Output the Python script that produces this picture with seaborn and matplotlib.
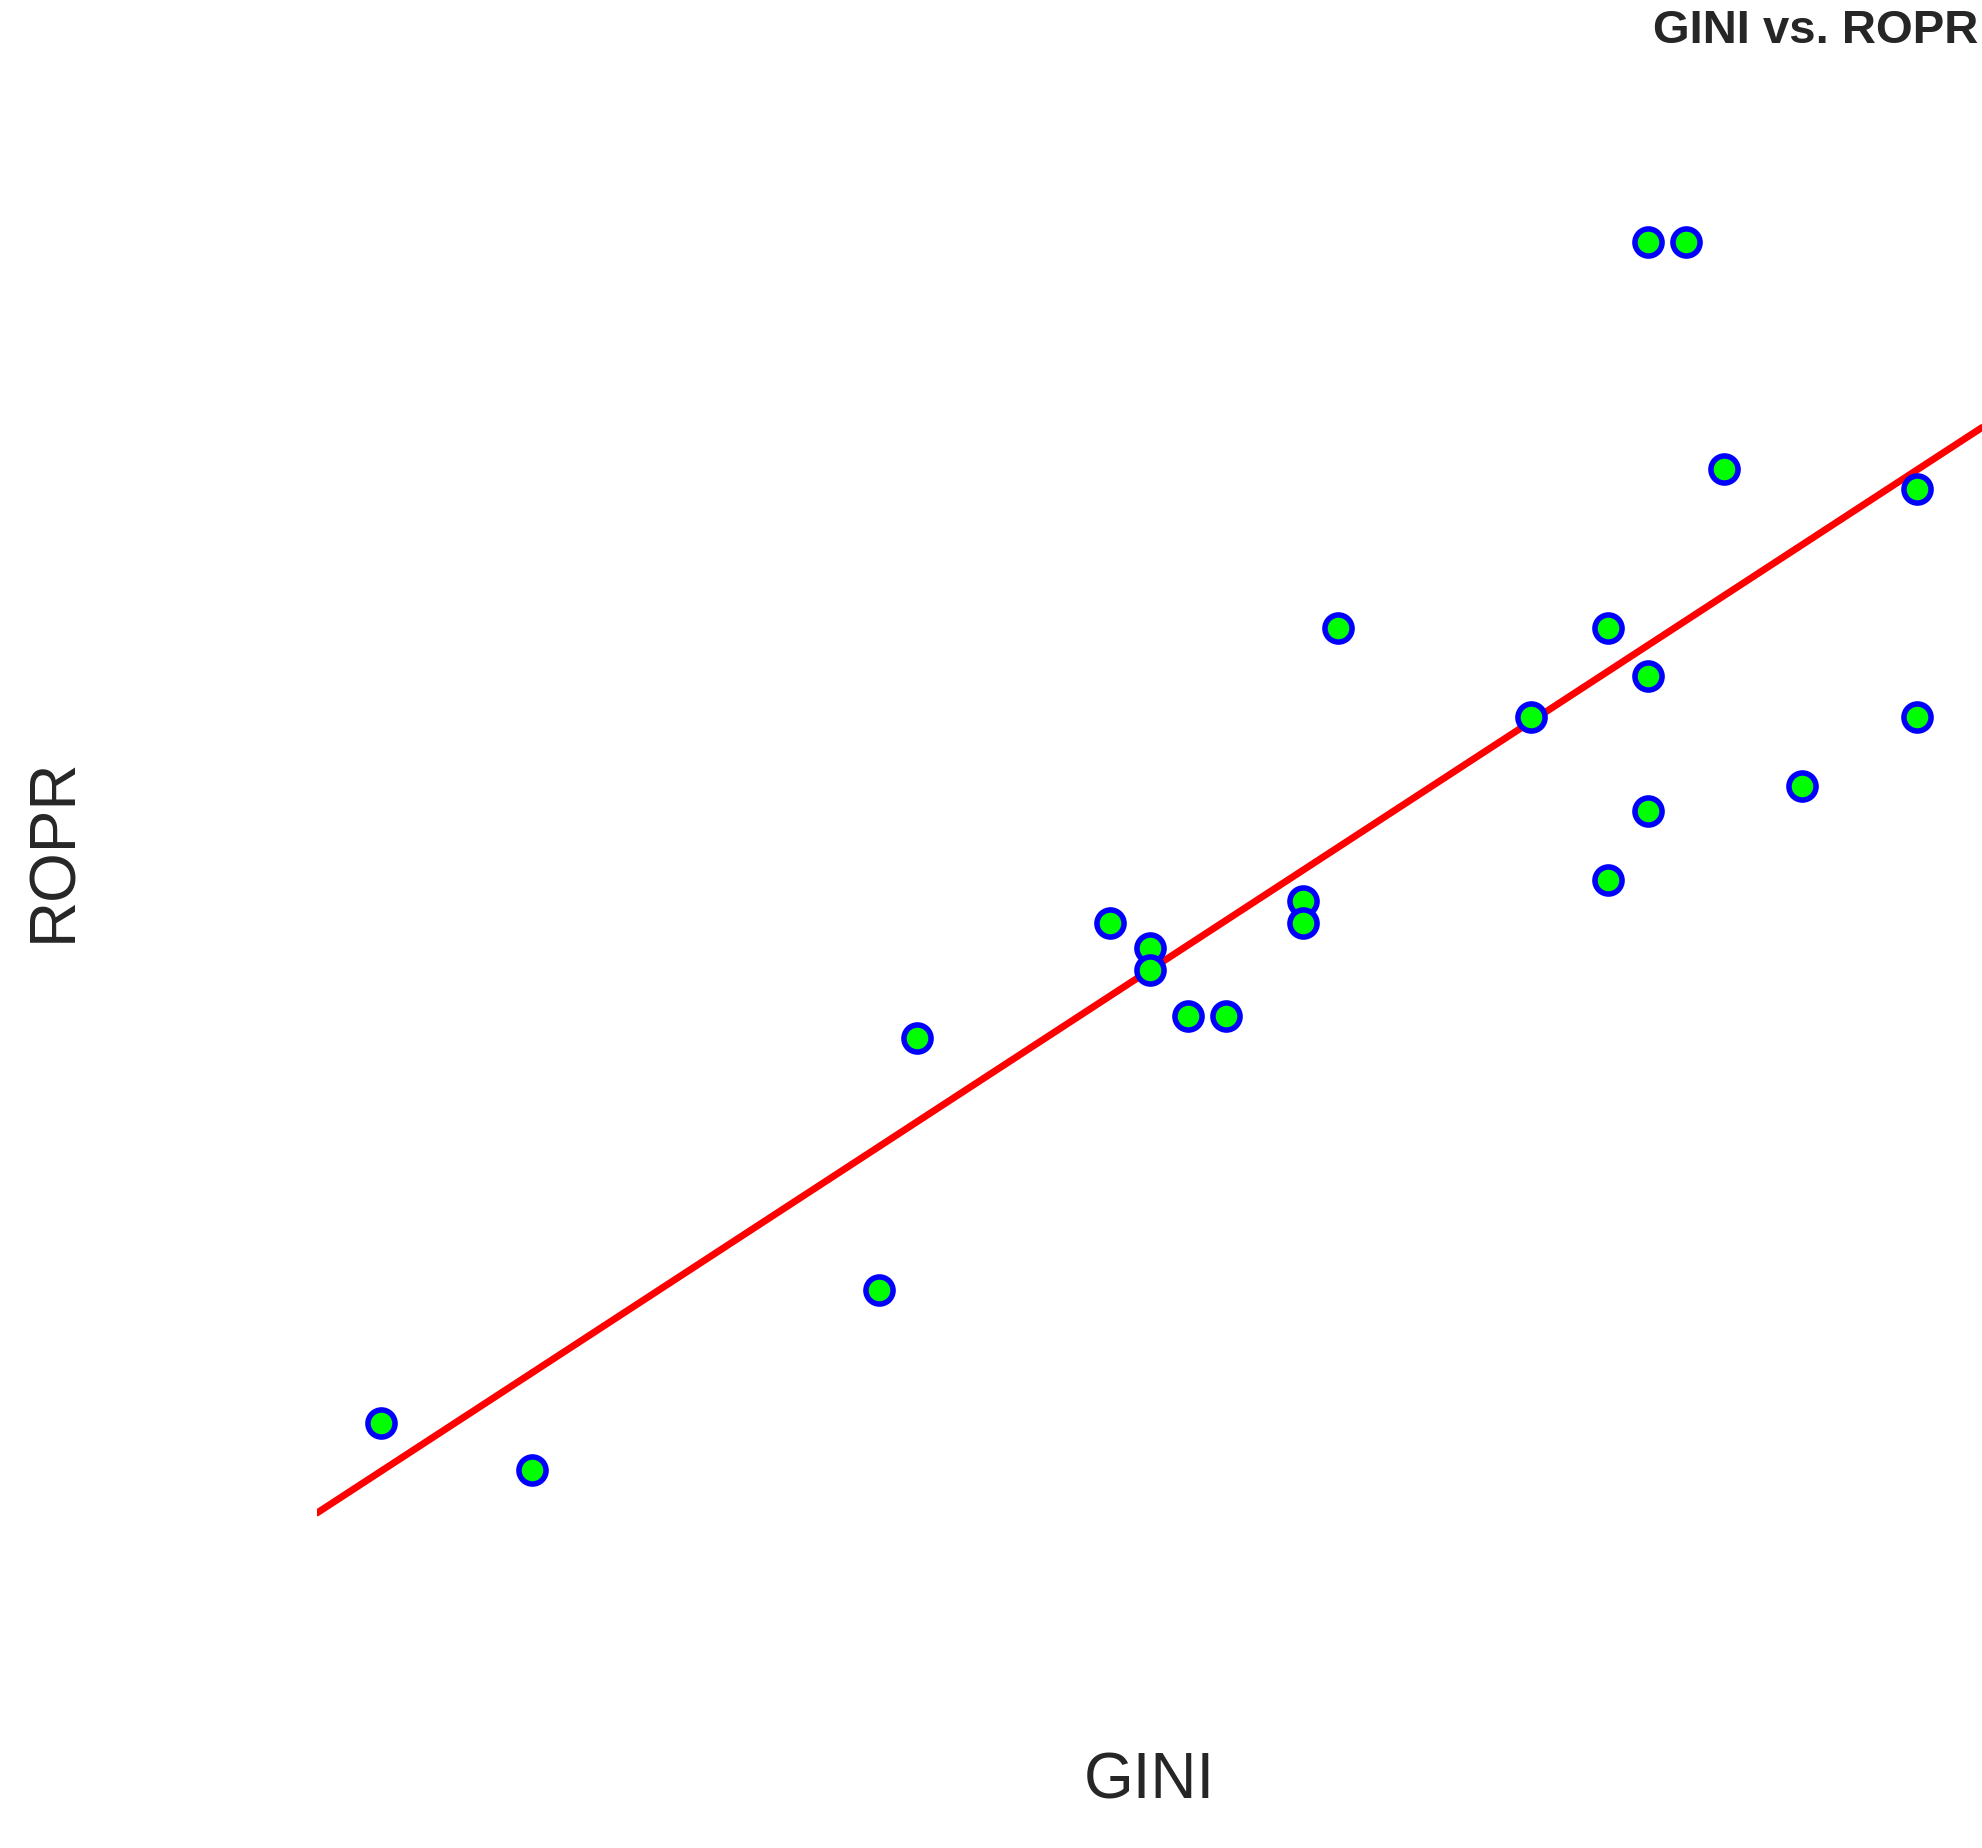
import numpy as np
import pandas as pd
import matplotlib
matplotlib.use("Agg")
import matplotlib.pyplot as plt
import seaborn as sns

# values (no ticks shown, arbitrary units)
gini = [300, 419, 692, 722, 874, 905, 905, 935, 965, 1026, 1026, 1053,
        1205, 1266, 1266, 1297, 1297, 1297, 1327, 1357, 1418, 1509, 1509]
ropr = [335, 298, 440, 639, 730, 710, 693, 656, 656, 747, 730, 963,
        892, 963, 764, 925, 818, 1267, 1267, 1088, 838, 1072, 892]

df = pd.DataFrame({"GINI": gini, "ROPR": ropr})

sns.set_style("white")
plt.rcParams['font.family'] = ['Liberation Sans', 'DejaVu Sans']

fig = plt.figure(figsize=(19.82, 18.48), dpi=100)
ax = fig.add_axes([0.16, 0.11, 0.84, 0.85])
ax.set_xlim(250, 1560)
ax.set_ylim(160, 1400)
sns.regplot(data=df, x="GINI", y="ROPR", ax=ax, ci=None, truncate=False,
            scatter_kws=dict(s=380, color="#00ff00", edgecolor="blue", linewidths=4, alpha=1, zorder=3),
            line_kws=dict(color="red", lw=5, zorder=2))
ax.set_xlim(250, 1560)
ax.set_ylim(160, 1400)
ax.set_xticks([])
ax.set_yticks([])
for s in ax.spines.values():
    s.set_visible(False)
ax.set_xlabel("")
ax.set_ylabel("")
fig.text(0.58, 0.02, "GINI", fontsize=46, ha="center", va="bottom")
fig.text(0.012, 0.54, "ROPR", fontsize=46, rotation=90, ha="left", va="center")
fig.text(0.998, 0.995, "GINI vs. ROPR", fontsize=34, fontweight="bold", ha="right", va="top")

fig.savefig("out.png", dpi=100)
